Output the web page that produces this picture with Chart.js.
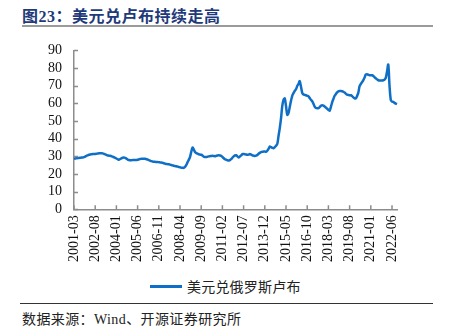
<!DOCTYPE html>
<html>
<head>
<meta charset="utf-8">
<script src="https://cdn.jsdelivr.net/npm/chart.js@4.4.1/dist/chart.umd.min.js"></script>
<style>
  html, body { margin: 0; padding: 0; background: #fff; }
  #page { position: relative; width: 449px; height: 336px; overflow: hidden; }
  #title {
    position: absolute; left: 22px; top: 3px;
    font: bold 16px "Liberation Serif", "Noto Sans CJK SC", serif;
    color: #1f3a7a; letter-spacing: 0.5px; white-space: nowrap;
  }
  #titleRule { position: absolute; left: 22px; top: 25px; width: 411px; height: 2px; background: #9b9b9b; }
  #chartBox { position: absolute; left: 0; top: 30px; width: 449px; height: 240px; }
  #legend { position: absolute; left: 150px; top: 276px; height: 20px; white-space: nowrap; }
  #legend .swatch { position: absolute; left: 0; top: 9px; width: 32px; height: 3px; background: #0f6fc6; }
  #legend .text {
    position: absolute; left: 37px; top: 0; line-height: 20px;
    font: 14px "Noto Sans CJK SC", serif; color: #222; letter-spacing: 0.2px;
  }
  #srcRule { position: absolute; left: 20px; top: 303px; width: 413px; height: 1px; background: #333; }
  #source {
    position: absolute; left: 22px; top: 308px;
    font: 14px "Liberation Serif", "Noto Sans CJK SC", serif; color: #222;
    letter-spacing: 0.4px; white-space: nowrap;
  }
</style>
</head>
<body>
<div id="page">
  <div id="title">图23：美元兑卢布持续走高</div>
  <div id="titleRule"></div>
  <div id="chartBox"><canvas id="rubChart" width="449" height="240"></canvas></div>
  <div id="legend"><span class="swatch"></span><span class="text" id="legendText"></span></div>
  <div id="srcRule"></div>
  <div id="source">数据来源：Wind、开源证券研究所</div>
</div>
<script>
// monthly USD/RUB, 2001-03 .. 2022-10
const seriesName = '美元兑俄罗斯卢布';
const startYear = 2001;
const startMonth = 3;
const usdRub = [
  // 2001 Mar-Dec
  28.6, 28.8, 28.9, 29.0, 29.1, 29.2, 29.3, 29.4, 29.6, 29.9,
  // 2002
  30.3, 30.6, 30.9, 31.1, 31.2, 31.3, 31.4, 31.4, 31.5, 31.6, 31.7, 31.8,
  // 2003
  31.8, 31.7, 31.4, 31.1, 30.8, 30.5, 30.4, 30.3, 30.1, 29.8, 29.5, 29.2,
  // 2004
  28.8, 28.4, 28.1, 28.5, 28.9, 29.2, 29.3, 29.1, 28.7, 28.2, 27.9, 27.8,
  // 2005
  27.8, 27.9, 28.0, 28.0, 28.0, 28.1, 28.3, 28.5, 28.6, 28.7, 28.7, 28.6,
  // 2006
  28.4, 28.2, 27.9, 27.6, 27.3, 27.1, 26.9, 26.9, 26.8, 26.8, 26.7, 26.6,
  // 2007
  26.5, 26.3, 26.1, 25.9, 25.7, 25.6, 25.5, 25.3, 25.1, 24.9, 24.7, 24.5,
  // 2008
  24.4, 24.2, 24.0, 23.8, 23.6, 23.5, 23.5, 24.0, 25.0, 26.6, 28.0, 29.5,
  // 2009
  32.5, 35.0, 34.0, 32.5, 31.9, 31.5, 31.2, 31.0, 30.9, 30.5, 29.8, 29.6,
  // 2010
  29.6, 29.8, 30.0, 30.1, 30.2, 30.3, 30.2, 30.1, 30.3, 30.5, 30.6, 30.5,
  // 2011
  30.3, 29.7, 29.0, 28.4, 28.1, 27.8, 27.6, 27.9, 28.4, 29.2, 30.0, 30.5,
  // 2012
  30.6, 30.0, 29.4, 29.9, 30.5, 31.3, 31.3, 31.2, 31.0, 30.9, 31.0, 31.3,
  // 2013
  31.0, 30.6, 30.4, 30.2, 30.4, 30.8, 31.5, 32.0, 32.4, 32.6, 32.7, 32.8,
  // 2014
  32.6, 33.2, 34.2, 35.6, 35.2, 34.8, 34.6, 35.2, 36.0, 37.0, 41.5, 46.0,
  // 2015
  51.5, 58.5, 62.0, 62.8, 58.5, 53.5, 54.5, 58.0, 61.5, 64.3, 65.8, 67.0,
  // 2016
  68.0, 69.8, 71.0, 72.6, 69.5, 66.0, 65.0, 64.8, 64.6, 64.3, 64.0, 63.0,
  // 2017
  62.0, 61.2, 59.8, 58.1, 57.4, 57.2, 57.3, 57.9, 58.6, 58.9, 58.7, 58.2,
  // 2018
  57.6, 57.0, 56.3, 55.9, 58.0, 60.6, 62.5, 64.3, 65.3, 66.2, 66.8, 67.0,
  // 2019
  67.0, 66.9, 66.6, 66.1, 65.5, 64.9, 64.8, 64.6, 64.6, 64.1, 63.4, 62.9,
  // 2020
  62.8, 64.2, 66.1, 69.8, 71.0, 72.0, 73.2, 74.6, 76.3, 76.5, 76.2, 75.9,
  // 2021
  75.9, 75.9, 75.5, 74.8, 74.2, 73.6, 73.1, 73.0, 73.0, 73.0, 73.1, 73.5,
  // 2022 Jan-Oct
  74.5, 78.0, 82.0, 70.0, 62.0, 61.0, 60.8, 60.3, 59.9, 59.6
];
const labelEvery = 17;
const yTicks = [0, 10, 20, 30, 40, 50, 60, 70, 80, 90];

const months = [];
for (let i = 0; i < usdRub.length; i++) {
    const m = startMonth - 1 + i;
    const yy = startYear + Math.floor(m / 12);
    const mm = (m % 12) + 1;
    months.push(yy + '-' + (mm < 10 ? '0' + mm : mm));
}

document.getElementById('legendText').textContent = seriesName;

const lineColor = '#0f6fc6';
const axisColor = '#8c8c8c';
const numFont = { family: '"Liberation Serif", "Times New Roman", serif', size: 14 };

// short tick marks pointing into the plot, like the original
const innerTicks = {
    id: 'innerTicks',
    afterDraw(chart) {
        const { ctx, chartArea, scales } = chart;
        ctx.save();
        ctx.strokeStyle = axisColor;
        ctx.lineWidth = 1.5;
        ctx.beginPath();
        yTicks.forEach(v => {
            const y = Math.round(scales.y.getPixelForValue(v)) + 0.5;
            ctx.moveTo(chartArea.left, y);
            ctx.lineTo(chartArea.left + 4, y);
        });
        for (let i = 0; i < months.length; i += labelEvery) {
            const x = scales.x.getPixelForValue(i);
            ctx.moveTo(x, chartArea.bottom);
            ctx.lineTo(x, chartArea.bottom - 4);
        }
        ctx.stroke();
        ctx.restore();
    }
};

const ctx = document.getElementById('rubChart').getContext('2d');
const rubChart = new Chart(ctx, {
    type: 'line',
    data: {
        labels: months,
        datasets: [{
            label: seriesName,
            data: usdRub,
            borderColor: lineColor,
            backgroundColor: lineColor,
            borderWidth: 2.5,
            pointRadius: 0,
            tension: 0.3,
            fill: false
        }]
    },
    options: {
        responsive: false,
        animation: false,
        layout: { padding: { top: 6, right: 52, left: 8, bottom: 2 } },
        plugins: {
            legend: { display: false },
            tooltip: { enabled: false }
        },
        scales: {
            x: {
                type: 'category',
                grid: { drawOnChartArea: false, drawTicks: false },
                border: { display: true, color: axisColor, width: 1.5 },
                ticks: {
                    autoSkip: false,
                    maxRotation: 90,
                    minRotation: 90,
                    padding: 6,
                    color: '#111',
                    font: numFont,
                    callback: (v, i) => (i % labelEvery === 0 ? months[i] : null)
                }
            },
            y: {
                min: 0,
                max: 90,
                grid: { drawOnChartArea: false, drawTicks: false },
                border: { display: true, color: axisColor, width: 1.5 },
                afterFit: (scale) => { scale.width = 66; },
                ticks: {
                    autoSkip: false,
                    stepSize: 10,
                    padding: 12,
                    color: '#111',
                    font: numFont
                }
            }
        }
    },
    plugins: [innerTicks]
});
</script>
</body>
</html>
